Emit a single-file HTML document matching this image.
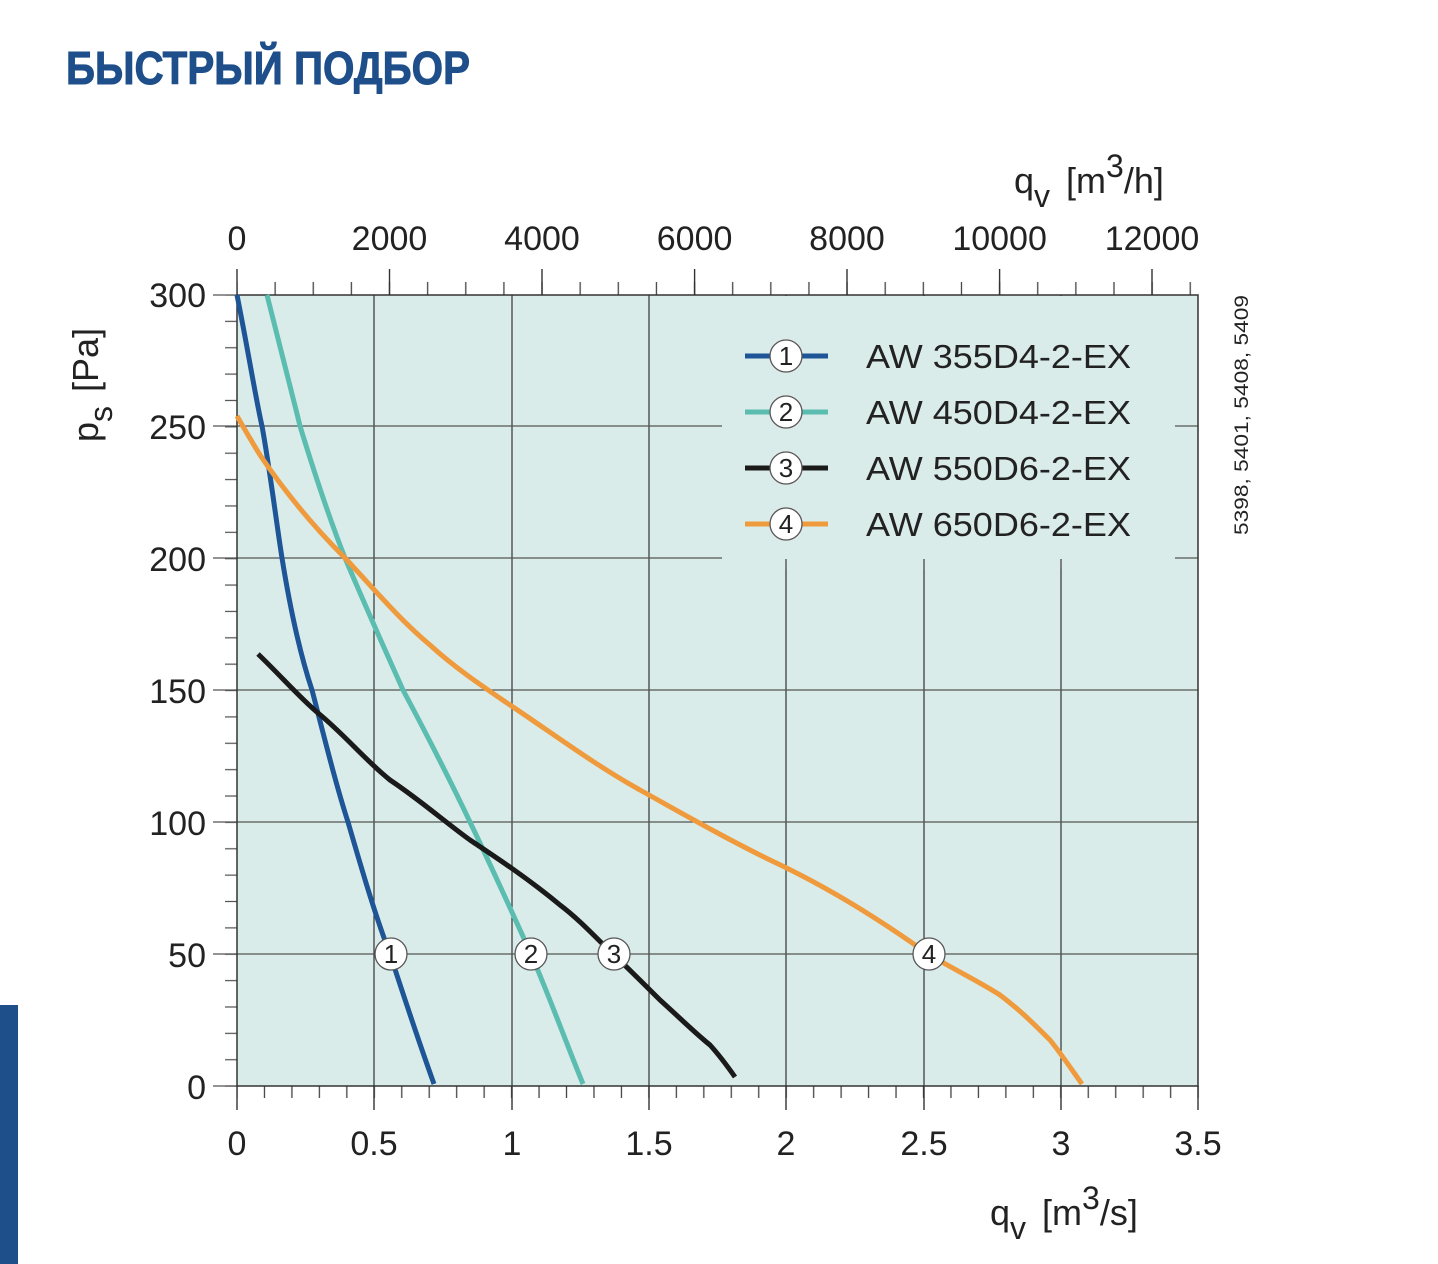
<!DOCTYPE html>
<html><head><meta charset="utf-8"><style>
html,body{margin:0;padding:0;background:#fff;}
svg{display:block;font-family:"Liberation Sans",sans-serif;}
</style></head><body>
<svg width="1438" height="1264" viewBox="0 0 1438 1264" xmlns="http://www.w3.org/2000/svg">
<defs>
<pattern id="pb" x="236" y="0" width="27.46" height="1264" patternUnits="userSpaceOnUse"><line x1="1" y1="0" x2="1" y2="1264" stroke="#444" stroke-width="1.3"/></pattern>
<pattern id="pt" x="236" y="0" width="38.13" height="1264" patternUnits="userSpaceOnUse"><line x1="1" y1="0" x2="1" y2="1264" stroke="#444" stroke-width="1.3"/></pattern>
<pattern id="pl" x="0" y="294" width="1438" height="26.37" patternUnits="userSpaceOnUse"><line x1="0" y1="1" x2="1438" y2="1" stroke="#555" stroke-width="1.3"/></pattern>
</defs>
<rect x="0" y="1005" width="18" height="259" fill="#1e4f8a"/>
<text x="66" y="84" font-size="46" font-weight="bold" fill="#1e4f8a" stroke="#1e4f8a" stroke-width="1" textLength="404" lengthAdjust="spacingAndGlyphs">БЫСТРЫЙ ПОДБОР</text>

<rect x="237" y="295" width="961" height="791" fill="#daecea"/>
<g stroke="#333" stroke-width="1.2">
<line x1="374" y1="295" x2="374" y2="1086"/>
<line x1="512" y1="295" x2="512" y2="1086"/>
<line x1="649" y1="295" x2="649" y2="1086"/>
<line x1="786" y1="295" x2="786" y2="1086"/>
<line x1="924" y1="295" x2="924" y2="1086"/>
<line x1="1061" y1="295" x2="1061" y2="1086"/>
</g>
<g stroke="#555" stroke-width="1.2">
<line x1="213" y1="426" x2="1198" y2="426"/>
<line x1="213" y1="558" x2="1198" y2="558"/>
<line x1="213" y1="690" x2="1198" y2="690"/>
<line x1="213" y1="822" x2="1198" y2="822"/>
<line x1="213" y1="954" x2="1198" y2="954"/>
<line x1="213" y1="1086" x2="237" y2="1086"/>
<line x1="213" y1="295" x2="237" y2="295"/>
</g>
<rect x="722" y="296" width="453" height="263" fill="#daecea"/>
<g stroke="#555" stroke-width="1.2">
<line x1="786" y1="559" x2="786" y2="569"/><line x1="924" y1="559" x2="924" y2="569"/><line x1="1061" y1="559" x2="1061" y2="569"/>
</g>
<rect x="237" y="1086" width="963" height="12" fill="url(#pb)"/>
<rect x="237" y="282" width="963" height="13" fill="url(#pt)"/>
<rect x="225" y="295" width="12" height="792" fill="url(#pl)"/>
<g stroke="#333" stroke-width="1.4">
<line x1="237" y1="1086" x2="237" y2="1110"/><line x1="374" y1="1086" x2="374" y2="1110"/><line x1="512" y1="1086" x2="512" y2="1110"/><line x1="649" y1="1086" x2="649" y2="1110"/><line x1="786" y1="1086" x2="786" y2="1110"/><line x1="924" y1="1086" x2="924" y2="1110"/><line x1="1061" y1="1086" x2="1061" y2="1110"/><line x1="1198" y1="1086" x2="1198" y2="1110"/>
<line x1="237" y1="269" x2="237" y2="295"/><line x1="389.5" y1="269" x2="389.5" y2="295"/><line x1="542" y1="269" x2="542" y2="295"/><line x1="694.6" y1="269" x2="694.6" y2="295"/><line x1="847" y1="269" x2="847" y2="295"/><line x1="999.6" y1="269" x2="999.6" y2="295"/><line x1="1152" y1="269" x2="1152" y2="295"/>
</g>
<rect x="237" y="295" width="961" height="791" fill="none" stroke="#333" stroke-width="1.5"/>

<g fill="none" stroke-width="5" stroke-linecap="butt" stroke-linejoin="round">
<path d="M237,295 C248,350 256,400 262,426 C270,470 276,520 282,558 C292,620 302,660 312,690 C325,740 336,785 348,822 C362,870 375,915 390,954 C405,1000 420,1045 434,1084" stroke="#1e5596"/>
<path d="M267,295 C280,345 290,385 300,426 C315,475 330,520 345,558 C365,605 385,650 403,690 C427,735 450,780 470,822 C493,870 512,912 531,954 C550,998 567,1045 583,1084" stroke="#5bbdb0"/>
<path d="M258,654 C280,675 300,698 318,713 C345,735 365,760 390,780 C420,800 445,822 470,840 C500,860 530,880 560,905 C580,920 598,940 613,954 C630,970 645,985 660,1000 C680,1018 695,1033 710,1045 C720,1056 728,1067 735,1077" stroke="#1a1a1a"/>
<path d="M237,416 C245,430 252,442 260,455 C285,492 315,528 345,558 C375,590 400,620 430,645 C455,668 485,688 510,705 C555,735 595,765 640,790 C685,815 725,838 770,860 C830,888 880,920 928,954 C955,970 980,982 1000,995 C1020,1010 1035,1025 1050,1040 C1062,1055 1072,1070 1082,1084" stroke="#ef9a3c"/>
</g>
<g stroke="#555" stroke-width="1.3" fill="#fff">
<circle cx="391" cy="954" r="16"/><circle cx="531" cy="954" r="16"/><circle cx="614" cy="954" r="16"/><circle cx="929" cy="954" r="16"/>
</g>
<g font-size="26" fill="#222" text-anchor="middle">
<text x="391" y="963">1</text><text x="531" y="963">2</text><text x="614" y="963">3</text><text x="929" y="963">4</text>
</g>

<g stroke-width="5">
<line x1="745" y1="356" x2="828" y2="356" stroke="#1e5596"/>
<line x1="745" y1="412" x2="828" y2="412" stroke="#5bbdb0"/>
<line x1="745" y1="468" x2="828" y2="468" stroke="#1a1a1a"/>
<line x1="745" y1="524" x2="828" y2="524" stroke="#ef9a3c"/>
</g>
<g stroke="#555" stroke-width="1.3" fill="#fff">
<circle cx="786" cy="356" r="16"/><circle cx="786" cy="412" r="16"/><circle cx="786" cy="468" r="16"/><circle cx="786" cy="524" r="16"/>
</g>
<g font-size="26" fill="#222" text-anchor="middle">
<text x="786" y="365">1</text><text x="786" y="421">2</text><text x="786" y="477">3</text><text x="786" y="533">4</text>
</g>
<g font-size="33" fill="#222">
<text x="866" y="368" textLength="265" lengthAdjust="spacingAndGlyphs">AW 355D4-2-EX</text>
<text x="866" y="424" textLength="265" lengthAdjust="spacingAndGlyphs">AW 450D4-2-EX</text>
<text x="866" y="480" textLength="265" lengthAdjust="spacingAndGlyphs">AW 550D6-2-EX</text>
<text x="866" y="536" textLength="265" lengthAdjust="spacingAndGlyphs">AW 650D6-2-EX</text>
</g>

<g font-size="34" fill="#222" text-anchor="end">
<text x="206" y="307">300</text><text x="206" y="439">250</text><text x="206" y="571">200</text><text x="206" y="703">150</text><text x="206" y="835">100</text><text x="206" y="967">50</text><text x="206" y="1099">0</text>
</g>
<g font-size="34" fill="#222" text-anchor="middle">
<text x="237" y="1155">0</text><text x="374" y="1155">0.5</text><text x="512" y="1155">1</text><text x="649" y="1155">1.5</text><text x="786" y="1155">2</text><text x="924" y="1155">2.5</text><text x="1061" y="1155">3</text><text x="1198" y="1155">3.5</text>
<text x="237" y="250">0</text><text x="389.5" y="250">2000</text><text x="542" y="250">4000</text><text x="694.6" y="250">6000</text><text x="847" y="250">8000</text><text x="999.6" y="250">10000</text><text x="1152" y="250">12000</text>
</g>
<g font-size="36" fill="#222">
<text x="1014" y="193">q<tspan font-size="32" dy="14">v</tspan><tspan dy="-14" dx="16">[m</tspan><tspan font-size="32" dy="-16">3</tspan><tspan dy="16">/h]</tspan></text>
<text x="990" y="1225">q<tspan font-size="32" dy="14">v</tspan><tspan dy="-14" dx="16">[m</tspan><tspan font-size="32" dy="-16">3</tspan><tspan dy="16">/s]</tspan></text>
<text transform="translate(98,442) rotate(-90)">p<tspan font-size="32" dy="14">s</tspan><tspan dy="-14" dx="14">[Pa]</tspan></text>
</g>
<text transform="translate(1248,535) rotate(-90)" font-size="19" fill="#222" textLength="240" lengthAdjust="spacingAndGlyphs">5398, 5401, 5408, 5409</text>
</svg>
</body></html>
